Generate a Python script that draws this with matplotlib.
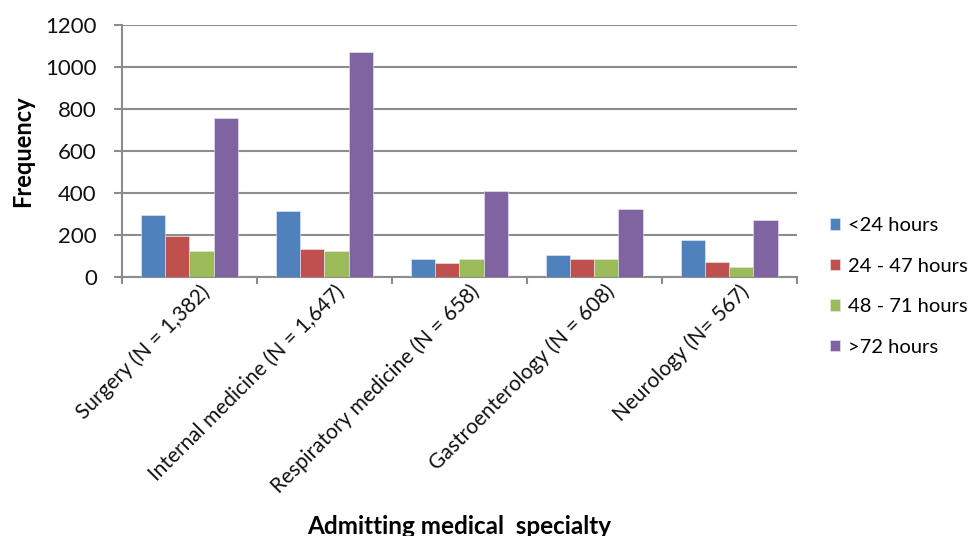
import numpy as np
import matplotlib.pyplot as plt
from matplotlib.transforms import ScaledTranslation

plt.rcParams["font.family"] = ["Lato", "DejaVu Sans"]

# admissions by specialty and length of stay
specialties = [
    "Surgery (N = 1,382)",
    "Internal medicine (N = 1,647)",
    "Respiratory medicine (N = 658)",
    "Gastroenterology (N = 608)",
    "Neurology (N= 567)",
]
stay_groups = ["<24 hours", "24 - 47 hours", "48 - 71 hours", ">72 hours"]
under_24 = [297, 316, 88, 106, 175]
h24_47 = [195, 135, 68, 87, 70]
h48_71 = [126, 125, 88, 88, 50]
over_72 = [755, 1068, 411, 326, 272]
yticks = [0, 200, 400, 600, 800, 1000, 1200]

colors = ["#4F81BD", "#C0504D", "#9BBB59", "#8064A2"]
grid_col = "#8C8C8C"

fig = plt.figure(figsize=(9.75, 5.36), dpi=100)
ax = fig.add_axes([0.125, 0.483, 0.692, 0.471])

x = np.arange(len(specialties))
width = 0.18
series = [under_24, h24_47, h48_71, over_72]
for i, (vals, lab) in enumerate(zip(series, stay_groups)):
    ax.bar(x + (i - 1.5) * width, vals, width, color=colors[i], label=lab,
           edgecolor="#E8ECF4", linewidth=0.4, zorder=3)

ax.set_xlim(-0.5, len(specialties) - 0.5)
ax.set_ylim(0, 1200)
ax.set_yticks(yticks)
ax.yaxis.grid(True, color=grid_col, linewidth=1.5, zorder=0)

for s in ["top", "right"]:
    ax.spines[s].set_visible(False)
for s in ["left", "bottom"]:
    ax.spines[s].set_color(grid_col)
    ax.spines[s].set_linewidth(1.5)

ax.tick_params(axis="y", length=6, width=1.5, color=grid_col, pad=12,
               labelsize=16, labelcolor="#111111")
# category boundaries carry the tick marks, names sit between them
ax.set_xticks(np.arange(-0.5, len(specialties), 1.0))
ax.set_xticklabels([])
ax.tick_params(axis="x", which="major", length=5, width=1.5, color=grid_col)
ax.set_xticks(x, specialties, minor=True)
ax.tick_params(axis="x", which="minor", length=0, pad=3, labelsize=15,
               labelcolor="#111111")
shift = ScaledTranslation(10 / 100, 0, fig.dpi_scale_trans)
for t in ax.get_xticklabels(minor=True):
    t.set_rotation(45)
    t.set_ha("right")
    t.set_va("top")
    t.set_rotation_mode("anchor")
    t.set_transform(t.get_transform() + shift)

ax.set_ylabel("Frequency", fontsize=17, fontweight="bold", labelpad=8)
fig.text(0.4713, 1 - 526 / 536, "Admitting medical  specialty",
         ha="center", va="center", fontsize=17.5, fontweight="bold")

fig.legend(loc="upper left", bbox_to_anchor=(0.851, 1 - 217 / 536),
           frameon=False, fontsize=14.5, handlelength=0.52, handleheight=0.52,
           handletextpad=0.4, labelspacing=1.17, borderpad=0,
           borderaxespad=0)

fig.savefig("out.png", dpi=100)
